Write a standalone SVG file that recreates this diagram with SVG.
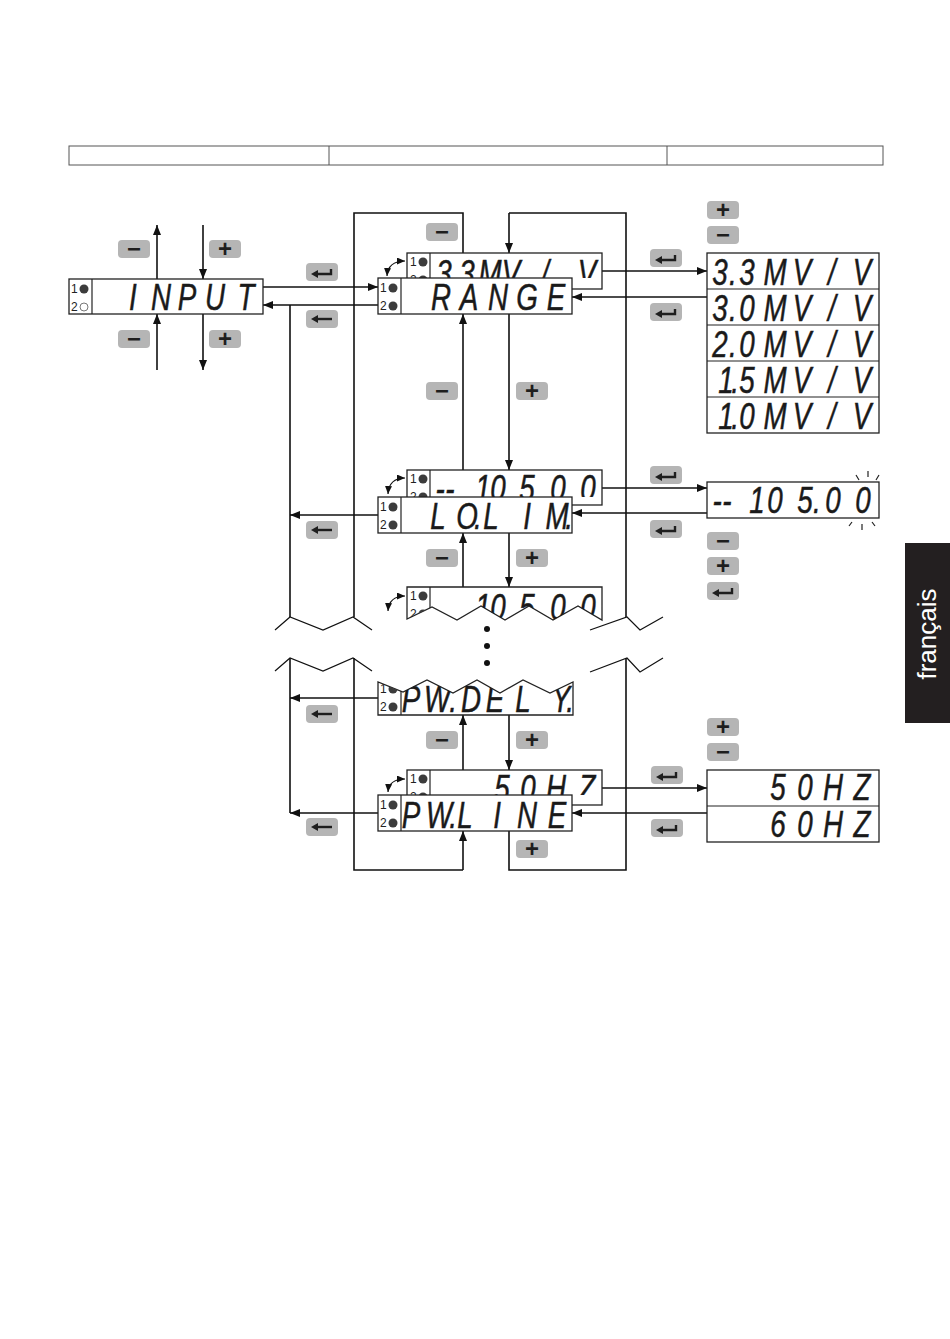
<svg xmlns="http://www.w3.org/2000/svg" width="950" height="1339" viewBox="0 0 950 1339">
<style>
.ln{fill:none;stroke:#111;stroke-width:1.6}
.thin{stroke-width:1.2}
.ar{marker-end:url(#ah)}
.bx{fill:#fff;stroke:#222;stroke-width:1.3}
.dv{stroke:#222;stroke-width:1.2}
.seg{font-family:"Liberation Sans",Arial,sans-serif;font-style:italic;font-size:37px;fill:#1a1a1a;stroke:#1a1a1a;stroke-width:0.5;text-anchor:middle}
.ind{font-family:"Liberation Sans",Arial,sans-serif;font-size:12px;fill:#222}
.dot{fill:#3c3c3c}
.btn{fill:#b5b5b5}
.sym{font-family:"Liberation Sans",Arial,sans-serif;font-weight:bold;font-size:24px;fill:#1e1e1e;text-anchor:middle}
.ico{fill:none;stroke:#1e1e1e;stroke-width:2.4}
.cv{fill:none;stroke:#111;stroke-width:1.2;marker-start:url(#sh);marker-end:url(#sh)}
.ray{stroke:#222;stroke-width:1.2}
</style>
<defs>
<marker id="ah" viewBox="0 0 10 8" markerWidth="10" markerHeight="8" refX="10" refY="4" orient="auto" markerUnits="userSpaceOnUse"><path d="M0,0L10,4L0,8z" fill="#111"/></marker>
<marker id="sh" viewBox="0 0 8 7" markerWidth="8" markerHeight="7" refX="8" refY="3.5" orient="auto-start-reverse" markerUnits="userSpaceOnUse"><path d="M0,0L8,3.5L0,7z" fill="#111"/></marker>
<g id="bp"><rect class="btn" width="32" height="18" rx="4"/><text class="sym" x="16" y="17">+</text></g>
<g id="bm"><rect class="btn" width="32" height="18" rx="4"/><text class="sym" x="16" y="17">−</text></g>
<g id="be"><rect class="btn" width="32" height="18" rx="4"/><path class="ico" d="M11,11H25V6"/><path d="M5,11L12,7V15Z" fill="#1e1e1e"/></g>
<g id="bb"><rect class="btn" width="32" height="18" rx="4"/><path class="ico" d="M11,9H26"/><path d="M5,9L12,5V13Z" fill="#1e1e1e"/></g>
<clipPath id="c1"><path d="M407,587H602V620L578,606L553,620L529,606L505,620L481,606L457,620L432,607L407,619Z"/></clipPath>
<clipPath id="c2"><path d="M378,715V682L403,692L427,680L453,693L477,680L500,693L523,680L550,693L573,682V715Z"/></clipPath>
<clipPath id="k1"><rect x="407" y="253" width="195" height="25"/></clipPath>
<clipPath id="k2"><rect x="407" y="470" width="195" height="27"/></clipPath>
<clipPath id="k3"><rect x="407" y="770" width="195" height="25"/></clipPath>
</defs>

<g id="header-table" fill="none" stroke="#555" stroke-width="1">
<rect x="69" y="146" width="814" height="19"/>
<line x1="329" y1="146" x2="329" y2="165"/>
<line x1="667" y1="146" x2="667" y2="165"/>
</g>

<g id="connectors" class="ln">
<path class="ar" d="M263,287H378"/>
<path class="ar" d="M378,305H263"/>
<path d="M290,305V617M290,658V813"/>
<path class="ar" d="M157,279V225"/>
<path class="ar" d="M157,370V314"/>
<path class="ar" d="M203,225V279"/>
<path class="ar" d="M203,314V370"/>
<path d="M463,870H354V658M354,617V213H463V253"/>
<path class="ar" d="M463,870V831"/>
<path d="M509,831V870H626V658M626,617V213H509"/>
<path class="ar" d="M509,213V253"/>
<path class="ar" d="M509,314V470"/>
<path class="ar" d="M463,470V314"/>
<path class="ar" d="M509,533V587"/>
<path class="ar" d="M463,587V533"/>
<path class="ar" d="M509,715V770"/>
<path class="ar" d="M463,770V715"/>
<path class="ar" d="M602,271H707"/>
<path class="ar" d="M707,297H572"/>
<path class="ar" d="M602,488H707"/>
<path class="ar" d="M707,513H572"/>
<path class="ar" d="M602,788H707"/>
<path class="ar" d="M707,813H572"/>
<path class="ar" d="M378,515H290"/>
<path class="ar" d="M378,698H290"/>
<path class="ar" d="M378,813H290"/>
<path class="thin" d="M275,630L290,617L323,630L353,617L372,630"/>
<path class="thin" d="M275,671L290,658L323,671L353,658L372,671"/>
<path class="thin" d="M590,630L627,617L640,630L663,617"/>
<path class="thin" d="M590,672L627,658L640,672L663,658"/>
</g>

<g id="ellipsis" fill="#111">
<circle cx="487" cy="629" r="3"/>
<circle cx="487" cy="646" r="3"/>
<circle cx="487" cy="663" r="3"/>
</g>

<g id="n-input">
<rect class="bx" x="69" y="279" width="194" height="35"/>
<line class="dv" x1="92" y1="279" x2="92" y2="314"/>
<text class="ind" x="71" y="293">1</text><circle class="dot" cx="84" cy="289" r="4.5"/>
<text class="ind" x="71" y="311">2</text><circle cx="84" cy="307" r="4" fill="none" stroke="#555" stroke-width="0.8"/>
<text class="seg" transform="scale(0.75 1)" x="177.3 214.7 249.3 286.7 328" y="310">INPUT</text>
</g>

<g id="n-range">
<rect class="bx" x="407" y="253" width="195" height="36"/>
<line class="dv" x1="430" y1="253" x2="430" y2="289"/>
<g clip-path="url(#k1)">
<text class="ind" x="410" y="266">1</text><circle class="dot" cx="423" cy="262" r="4.5"/>
<text class="ind" x="410" y="284">2</text><circle class="dot" cx="423" cy="280" r="4.5"/>
<text class="seg" transform="scale(0.75 1)" x="592 606.7 622.7 653.3 681.3 726.7 782.7" y="286">3.3MV/V</text>
</g>
<rect class="bx" x="378" y="278" width="194" height="36"/>
<line class="dv" x1="401" y1="278" x2="401" y2="314"/>
<text class="ind" x="380" y="292">1</text><circle class="dot" cx="393" cy="288" r="4.5"/>
<text class="ind" x="380" y="310">2</text><circle class="dot" cx="393" cy="306" r="4.5"/>
<text class="seg" transform="scale(0.75 1)" x="588 625.3 664 702.7 741.3" y="310">RANGE</text>
<path class="cv" d="M387,276Q388,261 405,261"/>
</g>

<g id="n-range-options">
<rect class="bx" x="707" y="253" width="172" height="180"/>
<line class="dv" x1="707" y1="289" x2="879" y2="289"/>
<line class="dv" x1="707" y1="325" x2="879" y2="325"/>
<line class="dv" x1="707" y1="361" x2="879" y2="361"/>
<line class="dv" x1="707" y1="397" x2="879" y2="397"/>
<text class="seg" transform="scale(0.75 1)" x="960 977.3 996 1033.3 1069.3 1109.3 1149.3" y="285">3.3MV/V</text>
<text class="seg" transform="scale(0.75 1)" x="960 977.3 996 1033.3 1069.3 1109.3 1149.3" y="321">3.0MV/V</text>
<text class="seg" transform="scale(0.75 1)" x="960 977.3 996 1033.3 1069.3 1109.3 1149.3" y="357">2.0MV/V</text>
<text class="seg" transform="scale(0.75 1)" x="968 980 996 1033.3 1069.3 1109.3 1149.3" y="393">1.5MV/V</text>
<text class="seg" transform="scale(0.75 1)" x="968 980 996 1033.3 1069.3 1109.3 1149.3" y="429">1.0MV/V</text>
</g>

<g id="n-lolim">
<rect class="bx" x="407" y="470" width="195" height="35"/>
<line class="dv" x1="430" y1="470" x2="430" y2="505"/>
<g clip-path="url(#k2)">
<text class="ind" x="410" y="483">1</text><circle class="dot" cx="423" cy="479" r="4.5"/>
<text class="ind" x="410" y="501">2</text><circle class="dot" cx="423" cy="497" r="4.5"/>
<text class="seg" transform="scale(0.75 1)" x="586.7 600 620 644 664 702.7 744 784" y="501">-- 10500</text>
</g>
<rect class="bx" x="378" y="497" width="194" height="36"/>
<line class="dv" x1="401" y1="497" x2="401" y2="533"/>
<text class="ind" x="380" y="511">1</text><circle class="dot" cx="393" cy="507" r="4.5"/>
<text class="ind" x="380" y="529">2</text><circle class="dot" cx="393" cy="525" r="4.5"/>
<text class="seg" transform="scale(0.75 1)" x="584 622.7 637.3 654.7 702.7 742.7 758.7" y="529">LO.LIM.</text>
<path class="cv" d="M388,494Q389,478 405,478"/>
</g>

<g id="n-lolim-edit">
<rect class="bx" x="707" y="482" width="172" height="36"/>
<text class="seg" transform="scale(0.75 1)" x="956 969.3 986.7 1009.3 1033.3 1073.3 1089.3 1110.7 1150.7" y="513">-- 105.00</text>
<path class="ray" d="M856,475L859,480M868,471V477M879,475L876,480M849,526L852,522M862,524V530M875,526L872,522"/>
</g>

<g id="n-next">
<path class="bx" d="M407,587H602V620L578,606L553,620L529,606L505,620L481,606L457,620L432,607L407,619Z"/>
<g clip-path="url(#c1)">
<line class="dv" x1="430" y1="587" x2="430" y2="620"/>
<text class="ind" x="410" y="600">1</text><circle class="dot" cx="423" cy="596" r="4.5"/>
<text class="ind" x="410" y="618">2</text><circle class="dot" cx="423" cy="614" r="4.5"/>
<text class="seg" transform="scale(0.75 1)" x="644 664 702.7 744 784" y="620">10500</text>
</g>
<path class="cv" d="M388,611Q389,596 405,596"/>
</g>

<g id="n-pwdely">
<path class="bx" d="M378,715V682L403,692L427,680L453,693L477,680L500,693L523,680L550,693L573,682V715Z"/>
<g clip-path="url(#c2)">
<line class="dv" x1="401" y1="680" x2="401" y2="715"/>
<text class="ind" x="380" y="693">1</text><circle class="dot" cx="393" cy="689" r="4.5"/>
<text class="ind" x="380" y="711">2</text><circle class="dot" cx="393" cy="707" r="4.5"/>
<text class="seg" transform="scale(0.75 1)" x="548 582.7 604 628 660 697.3 748 760" y="712">PW.DELY.</text>
</g>
</g>

<g id="n-pwline">
<rect class="bx" x="407" y="770" width="195" height="35"/>
<line class="dv" x1="430" y1="770" x2="430" y2="805"/>
<g clip-path="url(#k3)">
<text class="ind" x="410" y="783">1</text><circle class="dot" cx="423" cy="779" r="4.5"/>
<text class="ind" x="410" y="801">2</text><circle class="dot" cx="423" cy="797" r="4.5"/>
<text class="seg" transform="scale(0.75 1)" x="669.3 704 741.3 782.7" y="801">50HZ</text>
</g>
<rect class="bx" x="378" y="795" width="194" height="36"/>
<line class="dv" x1="401" y1="795" x2="401" y2="831"/>
<text class="ind" x="380" y="809">1</text><circle class="dot" cx="393" cy="805" r="4.5"/>
<text class="ind" x="380" y="827">2</text><circle class="dot" cx="393" cy="823" r="4.5"/>
<text class="seg" transform="scale(0.75 1)" x="548 585.3 604 620 662.7 702.7 742.7" y="828">PW.LINE</text>
<path class="cv" d="M388,792Q389,779 405,779"/>
</g>

<g id="n-pwline-options">
<rect class="bx" x="707" y="770" width="172" height="72"/>
<line class="dv" x1="707" y1="806" x2="879" y2="806"/>
<text class="seg" transform="scale(0.75 1)" x="1037.3 1073.3 1110.7 1149.3" y="800">50HZ</text>
<text class="seg" transform="scale(0.75 1)" x="1037.3 1073.3 1110.7 1149.3" y="837">60HZ</text>
</g>

<g id="buttons">
<use href="#bm" x="118" y="240"/><use href="#bp" x="209" y="240"/>
<use href="#bm" x="118" y="330"/><use href="#bp" x="209" y="330"/>
<use href="#be" x="306" y="263"/><use href="#bb" x="306" y="310"/>
<use href="#bm" x="426" y="223"/>
<use href="#be" x="650" y="249"/><use href="#be" x="650" y="303"/>
<use href="#bp" x="707" y="201"/><use href="#bm" x="707" y="226"/>
<use href="#bm" x="426" y="382"/><use href="#bp" x="516" y="382"/>
<use href="#be" x="650" y="466"/><use href="#be" x="650" y="520"/>
<use href="#bb" x="306" y="521"/>
<use href="#bm" x="426" y="549"/><use href="#bp" x="516" y="549"/>
<use href="#bm" x="707" y="532"/><use href="#bp" x="707" y="557"/><use href="#be" x="707" y="582"/>
<use href="#bb" x="306" y="705"/>
<use href="#bm" x="426" y="731"/><use href="#bp" x="516" y="731"/>
<use href="#bp" x="707" y="718"/><use href="#bm" x="707" y="743"/>
<use href="#be" x="651" y="766"/><use href="#be" x="651" y="819"/>
<use href="#bb" x="306" y="818"/>
<use href="#bp" x="516" y="840"/>
</g>

<g id="lang-tab">
<rect x="905" y="543" width="45" height="180" fill="#231f20"/>
<text transform="translate(936,634) rotate(-90)" x="0" y="0" text-anchor="middle" font-family="Liberation Sans, Arial, sans-serif" font-size="26" fill="#fff">français</text>
</g>
</svg>
